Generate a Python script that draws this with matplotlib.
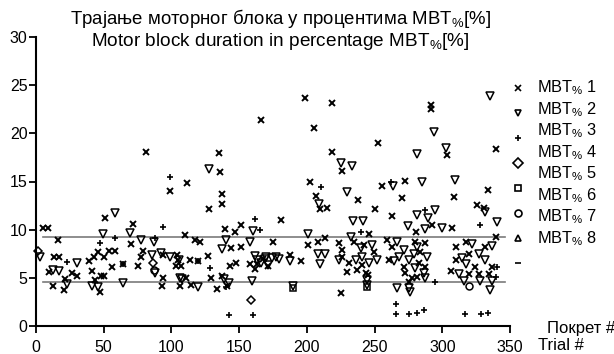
import matplotlib
matplotlib.use("Agg")
import matplotlib.pyplot as plt
from matplotlib.lines import Line2D

plt.rcParams["font.family"] = ["Liberation Sans", "DejaVu Sans"]
plt.rcParams["mathtext.default"] = "regular"

# MBT% 1 (x markers)
mbt1_x = [4.9, 8.5, 16.6, 13.4, 17.1, 9.8, 26.8, 30.5, 21.5, 12.7, 20.7, 51.2, 45.9, 42.7, 39.5, 50, 53.7,
          58, 56.1, 41.5, 64.6, 43.9, 48.3, 47.6, 50, 70.5, 71.7, 79.1, 77.9, 75.4, 81, 98.8, 111.5, 93.9,
          93.9, 93.4, 103.7, 104.9, 110.3, 117.2, 120.9, 106.1, 113.5, 107.4, 111, 114.7, 119.7, 127.8,
          135.1, 135.6, 137.6, 137.6, 127.3, 129.5, 133.7, 139.6, 137.6, 141, 143, 144.2, 146.7, 148,
          151.6, 151.6, 158.2, 161.4, 163.1, 165.8, 167.6, 171.3, 174.9, 181.1, 187.2, 198.3, 202, 200.7,
          195.8, 206.9, 209.4, 214.8, 218.5, 207.9, 213.6, 205.4, 218.9, 226.2, 252.8, 255.6, 272.8, 238,
          270.3, 250.2, 262.5, 280.6, 292.4, 245.8, 223.8, 234.8, 226.2, 242.2, 249.5, 231.1, 226.2,
          240.9, 237.3, 229.9, 243.4, 245.3, 225, 259.3, 263, 280.1, 287.5, 283.8, 260.5, 282.6, 271.6,
          272.8, 287.5, 277.7, 275.2, 281.4, 292, 291.4, 303.2, 339.3, 333.6, 308.6, 325.8, 330.7, 307.3,
          317.2, 309.8, 319.6, 331.9, 309.8, 324.5, 336.8, 319.6, 334.4, 339.3, 306.1, 327, 104.3]
mbt1_y = [10.15, 10.15, 8.9, 7.15, 7.2, 5.6, 5.45, 5.2, 4.85, 4.15, 3.75, 11.25, 7.65, 7.15, 6.7, 7.15, 7.75,
          7.75, 6.1, 5.7, 6.45, 4.75, 5.15, 3.55, 5.15, 8.5, 10.6, 7.8, 7.2, 6.2, 18.1, 14.05, 14.8, 7.4,
          5.0, 4.15, 6.2, 6.9, 9.4, 8.9, 8.75, 4.15, 6.9, 6.2, 5.0, 4.3, 6.7, 12.15,
          18.0, 16.0, 13.7, 12.7, 7.3, 4.95, 3.8, 10.1, 5.15, 4.15, 6.2, 8.05, 9.8, 6.55,
          10.45, 8.25, 6.45, 5.9, 6.45, 21.4, 6.95, 6.2, 8.75, 11.05, 7.4, 23.7, 14.9, 8.4,
          6.7, 13.5, 12.1, 12.2, 18.1, 8.75, 9.1, 20.6, 23.2, 16.1, 18.96, 14.5, 15.1, 13.1,
          13.25, 12.1, 11.4, 9.8, 10.5, 9.6, 8.6, 8.75, 7.9, 8.4, 7.7, 6.5, 7.2,
          6.3, 5.8, 5.65, 5.45, 5.3, 3.45, 8.9, 8.2, 8.75, 8.6, 7.7, 6.85, 6.5, 6.15,
          5.45, 6.15, 4.95, 4.6, 5.1, 22.9, 22.5, 17.8, 18.4, 14.1, 13.35, 12.6, 12.3, 10.2,
          8.7, 8.2, 7.5, 8.2, 6.8, 6.1, 6.1, 5.4, 5.4, 9.2, 5.7, 5.4, 7.4]

# MBT% 2 (down triangles)
mbt2_x = [2.9, 12.7, 17.1, 30, 23.2, 58, 49.3, 41.5, 45.9, 64.1, 69.3, 77.9, 87, 87.7, 85.4, 98.8, 106.1,
          108.1, 119.7, 127.8, 137.1, 140, 138.6, 142.5, 158.2, 160.2, 161.4, 159.5, 170, 177.4, 187.2,
          189.7, 200.7, 163.2, 166.1, 169.3, 171, 174.2, 179.2, 207.9, 213.6, 209.4, 208.6, 225, 233.1,
          263.5, 285, 229.9, 281.4, 294.9, 289.5, 234.1, 241.7, 274.8, 287, 232.4, 239.7, 248.3, 240.9,
          236, 223.8, 245.8, 252, 244.6, 244.6, 266.7, 271.6, 281.4, 278.9, 267.9, 264.2, 275.2, 288.7,
          280.1, 286.3, 287.5, 266.7, 275.2, 276.5, 335.6, 293.8, 281.5, 302.4, 309.1, 331.9, 340.5, 300,
          322.1, 314.7, 327, 336.8, 317.2, 331.9, 312.2, 328.2, 336.8, 334.9, 316, 92, 105.6]
mbt2_y = [7.2, 5.85, 5.7, 6.5, 4.4, 11.75, 9.6, 4.15, 4.0, 4.5, 9.7, 8.9, 8.75, 5.45, 7.4, 7.2, 5.0,
          4.85, 4.0, 16.25, 8.0, 8.9, 4.85, 4.5, 8.75, 9.9, 7.3, 4.65, 7.2, 7.2, 6.7,
          4.15, 9.6, 6.85, 6.5, 7.0, 6.3, 7.1, 7.0, 7.5, 7.5, 6.45, 12.7, 16.95, 16.6,
          14.5, 15.0, 13.9, 11.5, 12.0, 11.2, 10.9, 10.9, 10.4, 10.1, 9.2, 8.05, 8.4, 7.2,
          6.85, 6.85, 6.5, 6.85, 4.75, 4.25, 8.75, 7.9, 8.2, 7.5, 7.2, 6.7, 6.85, 7.2,
          6.0, 5.45, 4.95, 3.9, 3.9, 3.55, 23.9, 20.1, 17.9, 18.5, 15.2, 11.8, 10.8, 10.2,
          8.5, 7.1, 7.5, 8.3, 6.4, 6.8, 5.4, 4.7, 4.7, 3.7, 4.7, 7.6, 6.8]

# MBT% 3 (plus)
mbt3_x = [22.7, 47.6, 58.5, 64.6, 87.7, 93.9, 98.8, 119.7, 128.7, 161.4, 165.1, 142.5, 160.5, 210.3,
          261.8, 287.5, 239.7, 294.9, 265.5, 265.5, 275.2, 281.4, 286.3, 317, 328.5, 333.5, 327.5, 340.5,
          339.3, 140.5]
mbt3_y = [6.6, 8.6, 9.1, 6.45, 9.1, 10.3, 15.5, 6.7, 6.0, 11.15, 9.95, 1.14, 1.14, 14.4,
          15.0, 12.0, 9.8, 4.6, 2.3, 1.25, 1.25, 1.3, 1.65, 1.2, 1.2, 1.3, 10.5, 6.1,
          5.1, 4.1]

# MBT% 4..6 (diamond, square, circle)
mbt4_x = [1.7, 86.5, 159]
mbt4_y = [7.8, 6.55, 2.75]
mbt5_x = [189.5, 244.6]
mbt5_y = [3.9, 4.0]
mbt6_x = [87, 319.6]
mbt6_y = [5.8, 4.2]

# reference levels
ref_levels = [9.2, 4.6]

legend_labels = [r"MBT$_{\%}$ " + str(i) for i in range(1, 9)]
legend_markers = ["x", "v", "+", "D", "s", "o", "^", "_"]

W, H = 614, 354
fig = plt.figure(figsize=(W / 100, H / 100), dpi=100)
ax = fig.add_axes([36 / W, 1 - 326 / H, 474 / W, 289 / H])

for lvl in ref_levels:
    ax.plot([5, 346], [lvl, lvl], color="#7a7a7a", lw=1.2, zorder=1)

mk = dict(linestyle="none", color="black", mfc="none", clip_on=False, zorder=3)
ax.plot(mbt1_x, mbt1_y, marker="x", ms=5, mew=1.4, **mk)
ax.plot(mbt2_x, mbt2_y, marker="v", ms=5.5, mew=1.1, **mk)
ax.plot(mbt3_x, mbt3_y, marker="+", ms=5, mew=1.2, **mk)
ax.plot(mbt4_x, mbt4_y, marker="D", ms=4.5, mew=1.1, **mk)
ax.plot(mbt5_x, mbt5_y, marker="s", ms=4.5, mew=1.1, **mk)
ax.plot(mbt6_x, mbt6_y, marker="o", ms=5, mew=1.1, **mk)

ax.set_xlim(0, 350)
ax.set_ylim(0, 30)
ax.set_xticks(range(0, 351, 50))
ax.set_yticks(range(0, 31, 5))
for s in ["top", "right"]:
    ax.spines[s].set_visible(False)
for s in ["left", "bottom"]:
    ax.spines[s].set_linewidth(1.5)
ax.tick_params(direction="out", length=5, width=1.3, labelsize=11.5)
ax.tick_params(axis="y", pad=1)
ax.tick_params(axis="x", pad=5)

renderer = fig.canvas.get_renderer()


def fit_width(t, px):
    # scale the font so the text is px pixels wide
    w = t.get_window_extent(renderer).width
    t.set_fontsize(t.get_fontsize() * px / w)


# titles
t1 = fig.text(280 / W, 1 - 18 / H, "Трајање моторног блока у процентима MBT$_{\\%}$[%]",
              ha="center", va="center", fontsize=13)
t2 = fig.text(280 / W, 1 - 41 / H, "Motor block duration in percentage MBT$_{\\%}$[%]",
              ha="center", va="center", fontsize=13)
fit_width(t1, 420)
fit_width(t2, 377)

# axis names
fig.text(547 / W, 1 - 329 / H, "Покрет #", ha="left", va="center", fontsize=12)
fig.text(538 / W, 1 - 346 / H, "Trial #", ha="left", va="center", fontsize=12)

# legend (drawn by hand: markers and labels are spaced differently in the original)
leg_texts = []
for i, lab in enumerate(legend_labels):
    leg_texts.append(fig.text(537 / W, 1 - (88 + 21.5 * i) / H, lab, ha="left", va="center", fontsize=12))
w0 = leg_texts[0].get_window_extent(renderer).width
for t in leg_texts:
    t.set_fontsize(12 * 60 / w0)
for i, m in enumerate(legend_markers):
    fig.add_artist(Line2D([518 / W], [1 - (88 + 25 * i) / H], transform=fig.transFigure,
                          marker=m, ms=5, mfc="none", color="black", mew=1.2, linestyle="none"))

fig.savefig("out.png", dpi=100)
